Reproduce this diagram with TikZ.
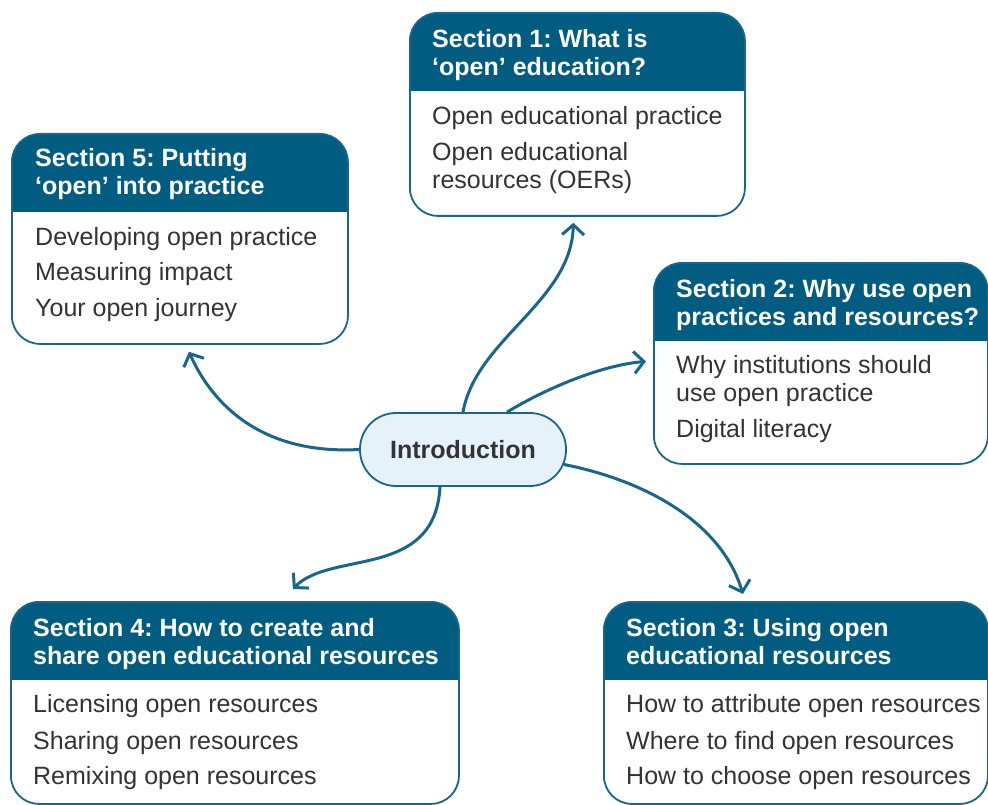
\documentclass[tikz,border=0pt]{standalone}
\usepackage{fontspec}
\setmainfont{Liberation Sans}
\usetikzlibrary{arrows.meta}
\definecolor{headblue}{RGB}{0,92,128}
\definecolor{linkblue}{RGB}{24,102,140}
\definecolor{introfill}{RGB}{229,242,250}
\definecolor{itemgray}{RGB}{51,51,51}
\frenchspacing

\begin{document}
\begin{tikzpicture}[x=1pt,y=-1pt,
  secbox/.style={draw=linkblue,line width=1.8pt,fill=white,rounded corners=28pt,
    anchor=north west,inner sep=0pt,
    path picture={\fill[headblue,sharp corners] (path picture bounding box.north west)
      rectangle ([yshift=-78pt]path picture bounding box.north east);}},
  headtxt/.style={anchor=base west,inner sep=0pt,align=left,text=white,
    font=\fontsize{25}{28}\selectfont\bfseries},
  itemtxt/.style={anchor=base west,inner sep=0pt,align=left,text=itemgray,
    font=\fontsize{25}{28}\selectfont},
  link/.style={draw=linkblue,line width=3pt,
    -{Straight Barb[length=10pt,width=22pt]}}]
\useasboundingbox (0,0) rectangle (988,805);

% Central node
\node[draw=linkblue,line width=1.8pt,fill=introfill,rounded corners=36pt,
  minimum width=206pt,minimum height=73pt,text=itemgray,
  font=\fontsize{25}{28}\selectfont\bfseries] (intro) at (463,449.5) {Introduction};

% Section 1 (multi-line texts sit on their last baseline)
\node[secbox,minimum width=335pt,minimum height=203pt] (s1) at (409,12) {};
\node[headtxt] (s1h) at (432,76) {Section 1: What is\\‘open’ education?};
\node[itemtxt] (s1a) at (432,125) {Open educational practice};
\node[itemtxt] (s1b) at (432,189) {Open educational\\resources (OERs)};

% Section 2
\node[secbox,minimum width=334pt,minimum height=201pt] (s2) at (653,262) {};
\node[headtxt] (s2h) at (676,325) {Section 2: Why use open\\practices and resources?};
\node[itemtxt] (s2a) at (676,401) {Why institutions should\\use open practice};
\node[itemtxt] (s2b) at (676,437) {Digital literacy};

% Section 3
\node[secbox,minimum width=384pt,minimum height=202pt] (s3) at (603,601) {};
\node[headtxt] (s3h) at (626,664) {Section 3: Using open\\educational resources};
\node[itemtxt] (s3a) at (626,712) {How to attribute open resources};
\node[itemtxt] (s3b) at (626,749) {Where to find open resources};
\node[itemtxt] (s3c) at (626,784) {How to choose open resources};

% Section 4
\node[secbox,minimum width=448pt,minimum height=202pt] (s4) at (10,601) {};
\node[headtxt] (s4h) at (33,664) {Section 4: How to create and\\share open educational resources};
\node[itemtxt] (s4a) at (33,712) {Licensing open resources};
\node[itemtxt] (s4b) at (33,749) {Sharing open resources};
\node[itemtxt] (s4c) at (33,784) {Remixing open resources};

% Section 5
\node[secbox,minimum width=336pt,minimum height=210pt] (s5) at (11,133) {};
\node[headtxt] (s5h) at (35,195) {Section 5: Putting\\‘open’ into practice};
\node[itemtxt] (s5a) at (35,245) {Developing open practice};
\node[itemtxt] (s5b) at (35,280) {Measuring impact};
\node[itemtxt] (s5c) at (35,316) {Your open journey};

% Links from the introduction
\draw[link] (intro.north) .. controls +(13,-73) and +(-2,79) .. ([shift={(-4,6)}]s1.south);
\draw[link] ([xshift=44pt]intro.north) .. controls +(38,-23) and +(-46,4) .. ([shift={(-7,-2)}]s2.west);
\draw[link] ([shift={(-3,15)}]intro.east) .. controls +(77,15) and +(-22,-74) .. ([shift={(-53,-7)}]s3.north);
\draw[link] ([xshift=-23pt]intro.south) .. controls +(-5,93) and +(38,-39) .. ([shift={(58,-12)}]s4.north);
\draw[link] (intro.west) .. controls +(-90,5) and +(27,60) .. ([shift={(9,7)}]s5.south);
\end{tikzpicture}
\end{document}
